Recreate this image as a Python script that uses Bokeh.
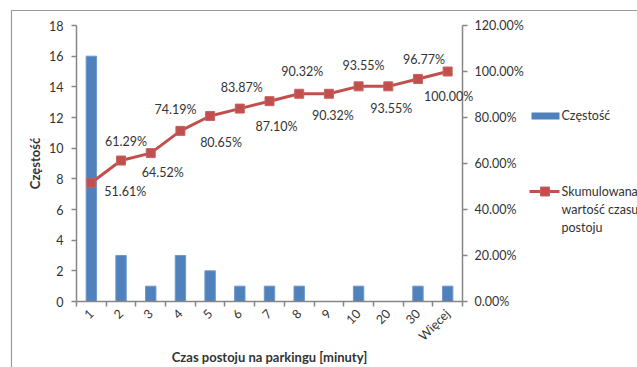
import numpy as np
from bokeh.plotting import figure
from bokeh.models import (Range1d, LinearAxis, FixedTicker, PrintfTickFormatter,
                          ColumnDataSource, LabelSet, Label, PolyAnnotation)
from bokeh.core.properties import value
from bokeh.embed import file_html
from bokeh.resources import INLINE

# ---- data -------------------------------------------------------------
categories = ["1", "2", "3", "4", "5", "6", "7", "8", "9", "10", "20", "30", "Więcej"]
counts = [16, 3, 1, 3, 2, 1, 1, 1, 0, 1, 0, 1, 1]
cumulative_pct = [51.61, 61.29, 64.52, 74.19, 80.65, 83.87, 87.10,
                  90.32, 90.32, 93.55, 93.55, 96.77, 100.00]
freq_ticks = [0, 2, 4, 6, 8, 10, 12, 14, 16, 18]
pct_ticks = [0, 20, 40, 60, 80, 100, 120]

# pixel nudges for the percentage labels (alternating above / below the line)
label_dx = [34, 5, 12, -5, 11, 2, 7, 3, 4, 5, 3, 6, 1]
label_dy = [-9, 19, -19, 21, -26, 21, -25, 22, -22, 21, -22, 19, -25]

# ---- styles -------------------------------------------------------------
BAR = "#4F81BD"
BAR_EDGE = "#6F98CA"
LINE = "#C0504D"
LINE_EDGE = "#C9625F"
AXIS = "#868686"
BORDER = "#9a9a9a"
TEXT = "#333333"
FONT = "Lato"
FS = "12.5px"        # tick labels, data labels, legend
FS_TITLE = "13px"    # axis titles

W, H = 637, 367
# plot-area placement on the canvas (pixels)
PA_LEFT, PA_RIGHT, PA_TOP, PA_BOTTOM = 76, 462, 25, 301

n = len(categories)
centers = [i + 0.5 for i in range(n)]
freq_max = freq_ticks[-1]
pct_max = pct_ticks[-1]

# the frame spans the whole canvas; axes sit at fixed locations inside it
px_x = (PA_RIGHT - PA_LEFT) / n
px_f = (PA_BOTTOM - PA_TOP) / freq_max
px_p = (PA_BOTTOM - PA_TOP) / pct_max
x_range = Range1d(-PA_LEFT / px_x, n + (W - PA_RIGHT) / px_x)
y_range = Range1d(-(H - PA_BOTTOM) / px_f, freq_max + PA_TOP / px_f)
pct_range = Range1d(-(H - PA_BOTTOM) / px_p, pct_max + PA_TOP / px_p)

src = ColumnDataSource(dict(
    x=centers,
    count=counts,
    pct=cumulative_pct,
    label=[f"{v:.2f}%" for v in cumulative_pct],
    dx=label_dx,
    dy=label_dy,
))

p = figure(width=W, height=H, x_range=x_range, y_range=y_range,
           output_backend="svg", toolbar_location=None, min_border=0,
           min_border_left=0, min_border_right=0, min_border_top=0, min_border_bottom=0)
p.extra_y_ranges = {"pct": pct_range}
p.outline_line_color = None
p.background_fill_color = "white"
p.border_fill_color = "white"
p.xgrid.visible = False
p.ygrid.visible = False

# chart-area border (screen units from the canvas' bottom-left)
p.add_layout(PolyAnnotation(xs=[11, 11, W + 50, W + 50], ys=[-50, H - 10, H - 10, -50],
                            xs_units="screen", ys_units="screen",
                            fill_alpha=0, line_color=BORDER, line_alpha=1, line_width=1.2))

# bars (frequency) and cumulative line
p.vbar(x="x", top="count", width=0.35, source=src, fill_color=BAR,
       line_color=BAR_EDGE, line_width=1)
p.line(x="x", y="pct", source=src, y_range_name="pct", line_color=LINE, line_width=3)
p.scatter(x="x", y="pct", source=src, y_range_name="pct", marker="square", size=9,
          fill_color=LINE, line_color=LINE_EDGE, line_width=1)

# x axis: ticks between categories, labels at centres
xa = p.xaxis[0]
xa.fixed_location = 0
xa.bounds = (0, n)
xa.ticker = FixedTicker(ticks=centers, minor_ticks=list(range(n + 1)))
xa.major_label_overrides = {c: cat for c, cat in zip(centers, categories)}
xa.major_label_orientation = np.pi / 4
xa.major_tick_line_color = None
xa.minor_tick_in = 0
xa.minor_tick_out = 5
xa.minor_tick_line_color = AXIS
xa.minor_tick_line_width = 1.5
xa.axis_label = "Czas postoju na parkingu [minuty]"
xa.major_label_standoff = 4
xa.axis_label_standoff = -3

# left axis
ya = p.yaxis[0]
ya.fixed_location = 0
ya.bounds = (0, freq_max)
ya.ticker = FixedTicker(ticks=freq_ticks)
ya.axis_label = "Częstość"
ya.major_tick_in = 0
ya.major_tick_out = 5
ya.minor_tick_line_color = None
ya.major_label_standoff = 8
ya.axis_label_standoff = 3

# right axis (cumulative percentage)
ra = LinearAxis(y_range_name="pct", ticker=FixedTicker(ticks=pct_ticks),
                formatter=PrintfTickFormatter(format="%.2f%%"))
ra.fixed_location = n
ra.bounds = (0, pct_max)
ra.major_tick_in = 0
ra.major_tick_out = 5
ra.minor_tick_line_color = None
ra.major_label_standoff = 7
p.add_layout(ra, "right")

for ax in [xa, ya, ra]:
    ax.axis_line_color = AXIS
    ax.axis_line_width = 1.5
    ax.major_tick_line_width = 1.5
    if ax is not xa:
        ax.major_tick_line_color = AXIS
    ax.major_label_text_font = FONT
    ax.major_label_text_font_size = FS
    ax.major_label_text_color = TEXT
    ax.axis_label_text_font = FONT
    ax.axis_label_text_font_size = FS_TITLE
    ax.axis_label_text_font_style = "bold"
    ax.axis_label_text_color = TEXT

# percentage labels on the line
labels = LabelSet(x="x", y="pct", text="label", source=src, y_range_name="pct",
                  x_offset="dx", y_offset="dy", text_align="center", text_baseline="middle",
                  text_font=value(FONT), text_font_size=value(FS), text_color=TEXT)
p.add_layout(labels)

# legend, drawn by hand to the right of the percentage axis
p.add_layout(PolyAnnotation(xs=[531, 559, 559, 531], ys=[248, 248, 255, 255],
                            xs_units="screen", ys_units="screen",
                            fill_color=BAR, fill_alpha=1, line_color=None))
p.add_layout(PolyAnnotation(xs=[529, 559], ys=[176, 176],
                            xs_units="screen", ys_units="screen",
                            fill_alpha=0, line_color=LINE, line_alpha=1, line_width=3))
p.add_layout(PolyAnnotation(xs=[540, 549, 549, 540], ys=[171.5, 171.5, 180.5, 180.5],
                            xs_units="screen", ys_units="screen",
                            fill_color=LINE, fill_alpha=1, line_color=LINE_EDGE,
                            line_alpha=1, line_width=1))
legend_texts = [("Częstość", 252), ("Skumulowana", 176), ("wartość czasu", 158), ("postoju", 140)]
for txt, yy in legend_texts:
    p.add_layout(Label(x=561, y=yy, x_units="screen", y_units="screen", text=txt,
                       text_align="left", text_baseline="middle",
                       text_font=FONT, text_font_size=FS, text_color=TEXT))

open("out.html", "w").write(file_html(p, INLINE))
